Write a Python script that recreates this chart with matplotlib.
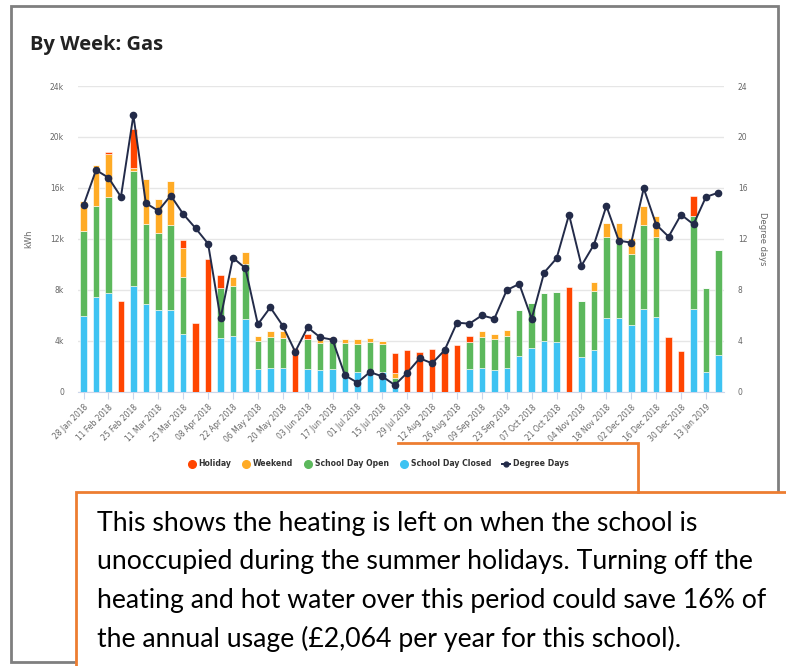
import numpy as np
import matplotlib.pyplot as plt
from matplotlib.lines import Line2D
from matplotlib.patches import Rectangle

# weekly gas use (k kWh), split by occupancy
closed = [5.97, 7.46, 7.72, 0, 8.32, 6.86, 6.39, 6.39, 4.53, 0, 0, 4.19, 4.37, 5.71,
          1.75, 1.83, 1.83, 0, 1.75, 1.68, 1.75, 1.44, 1.54, 1.62, 1.57, 0.34, 0, 0,
          0, 0, 0, 1.75, 1.83, 1.73, 1.83, 2.80, 3.46, 3.98, 3.87, 0, 2.70, 3.25,
          5.79, 5.79, 5.21, 6.52, 5.86, 0, 0, 6.52, 1.57, 2.85]
opened = [6.67, 7.14, 7.58, 0, 9.04, 6.31, 6.10, 6.67, 4.45, 0, 0, 3.93, 3.95, 4.29,
          2.25, 2.49, 2.36, 0, 2.39, 2.12, 2.18, 2.36, 2.20, 2.25, 2.15, 0.71, 0, 0,
          0, 0, 0, 2.18, 2.49, 2.43, 2.54, 3.61, 3.48, 3.74, 3.98, 0, 4.42, 4.66,
          6.33, 6.20, 5.63, 6.54, 6.31, 0, 0, 7.28, 6.55, 8.28]
weekend = [2.33, 3.20, 3.36, 0, 0.18, 3.56, 2.64, 3.46, 2.28, 0, 0, 0, 0.71, 0.99,
           0.40, 0.42, 0.60, 0, 0, 0.34, 0.39, 0.34, 0.40, 0.32, 0.26, 0.44, 0, 0,
           0, 0, 0, 0, 0.44, 0.37, 0.50, 0, 0, 0, 0, 0, 0, 0.73,
           1.10, 1.23, 1.20, 1.52, 1.63, 0, 0, 0, 0, 0]
holiday = [0, 0, 0.14, 7.15, 3.06, 0, 0, 0, 0.68, 5.37, 10.42, 1.02, 0, 0,
           0, 0, 0, 3.46, 0.39, 0, 0, 0, 0, 0, 0, 1.52, 3.27, 3.09,
           3.32, 3.22, 3.66, 0.44, 0, 0, 0, 0, 0, 0, 0, 8.25, 0, 0,
           0, 0, 0, 0, 0, 4.32, 3.22, 1.57, 0, 0]
degree_days = [14.66, 17.4, 16.8, 15.3, 21.7, 14.8, 14.2, 15.4, 13.95, 12.83,
               11.62, 5.76, 10.52, 9.69, 5.29, 6.62, 5.18, 3.14, 5.05, 4.27,
               4.08, 1.28, 0.71, 1.54, 1.2, 0.52, 1.49, 2.62, 2.23, 3.25,
               5.42, 5.34, 5.99, 5.73, 7.98, 8.46, 5.73, 9.35, 10.47, 13.9,
               9.9, 11.54, 14.58, 11.86, 11.7, 15.97, 13.12, 12.17, 13.9, 13.14,
               15.29, 15.63]
tick_labels = ['28 Jan 2018', '11 Feb 2018', '25 Feb 2018', '11 Mar 2018', '25 Mar 2018',
               '08 Apr 2018', '22 Apr 2018', '06 May 2018', '20 May 2018', '03 Jun 2018',
               '17 Jun 2018', '01 Jul 2018', '15 Jul 2018', '29 Jul 2018', '12 Aug 2018',
               '26 Aug 2018', '09 Sep 2018', '23 Sep 2018', '07 Oct 2018', '21 Oct 2018',
               '04 Nov 2018', '18 Nov 2018', '02 Dec 2018', '16 Dec 2018', '30 Dec 2018',
               '13 Jan 2019']
note_lines = ['This shows the heating is left on when the school is',
              'unoccupied during the summer holidays. Turning off the',
              'heating and hot water over this period could save 16% of',
              'the annual usage (£2,064 per year for this school).']

c_hol, c_wk, c_open, c_closed, c_dd = '#ff4500', '#ffab25', '#5cb85c', '#3ec3f2', '#232b49'
grey = '#666666'

W, H = 786, 666
fig = plt.figure(figsize=(W / 100, H / 100), dpi=100)

ax = fig.add_axes([78 / W, 1 - 391.7 / H, (724 - 78) / W, (391.7 - 86) / H])
x = np.arange(len(closed))
b1 = np.array(closed)
b2 = b1 + np.array(opened)
b3 = b2 + np.array(weekend)
kw = dict(width=0.52, edgecolor='white', linewidth=0.4, zorder=3)
ax.bar(x, closed, color=c_closed, **kw)
ax.bar(x, opened, bottom=b1, color=c_open, **kw)
ax.bar(x, weekend, bottom=b2, color=c_wk, **kw)
ax.bar(x, holiday, bottom=b3, color=c_hol, **kw)

ax.set_xlim(-0.45, 51.45)
ax.set_ylim(0, 24)
ax.set_yticks(range(0, 25, 4))
ax.set_yticklabels(['0'] + [f'{v}k' for v in range(4, 25, 4)])
ax.grid(axis='y', color='#e6e6e6', lw=1, zorder=0)
ax.set_axisbelow(True)
for s in ['top', 'left', 'right']:
    ax.spines[s].set_visible(False)
ax.spines['bottom'].set_color('#ccd6eb')
ax.set_xticks(x[::2])
ax.set_xticklabels(tick_labels, rotation=45, ha='right', rotation_mode='anchor',
                   fontsize=5.5, color=grey)
ax.tick_params(axis='x', length=5, color='#ccd6eb', pad=3)
ax.tick_params(axis='y', length=0, labelsize=5.5, labelcolor=grey, pad=10)
ax.set_ylabel('kWh', fontsize=6, color=grey, labelpad=12)

ax2 = ax.twinx()
ax2.plot(x, degree_days, color=c_dd, lw=1.4, marker='o', ms=4.5, zorder=5)
ax2.set_ylim(0, 24)
ax2.set_yticks(range(0, 25, 4))
ax2.tick_params(axis='y', length=0, labelsize=5.5, labelcolor=grey, pad=10)
for s in ax2.spines.values():
    s.set_visible(False)
ax2.set_ylabel('Degree days', fontsize=6, color=grey, rotation=270, labelpad=14)

handles = [Line2D([], [], ls='', marker='o', ms=5.5, color=c) for c in (c_hol, c_wk, c_open, c_closed)]
handles.append(Line2D([], [], color=c_dd, lw=1.4, marker='o', ms=3.5))
fig.legend(handles, ['Holiday', 'Weekend', 'School Day Open', 'School Day Closed', 'Degree Days'],
           loc='center', bbox_to_anchor=(378 / W, 1 - 464 / H), ncol=5, frameon=False,
           prop=dict(size=5.6, weight='bold'), labelcolor='#333333',
           handlelength=1.1, handletextpad=0.3, columnspacing=1.4)

fig.text(30 / W, 1 - 45 / H, 'By Week: Gas', fontsize=14.5, fontweight='bold',
         family='Open Sans', color='#222222', va='center')

# frame and the orange note box, drawn in pixel coordinates
ov = fig.add_axes([0, 0, 1, 1], zorder=10)
ov.set_xlim(0, W)
ov.set_ylim(H, 0)
ov.axis('off')
ov.patch.set_alpha(0)
ov.add_patch(Rectangle((11, 6), 767, 656, fill=False, ec='#7f7f7f', lw=2))
ov.add_patch(Rectangle((76, 492), 720, 190, fc='white', ec='#ed7d31', lw=2))
ov.plot([398, 638, 638], [443, 443, 492], color='#ed7d31', lw=2, solid_joinstyle='miter')
for i, line in enumerate(note_lines):
    ov.text(97, 531 + i * 38.5, line, fontsize=19.2, family='Lato', color='black', va='baseline')

fig.savefig('out.png', dpi=100)
